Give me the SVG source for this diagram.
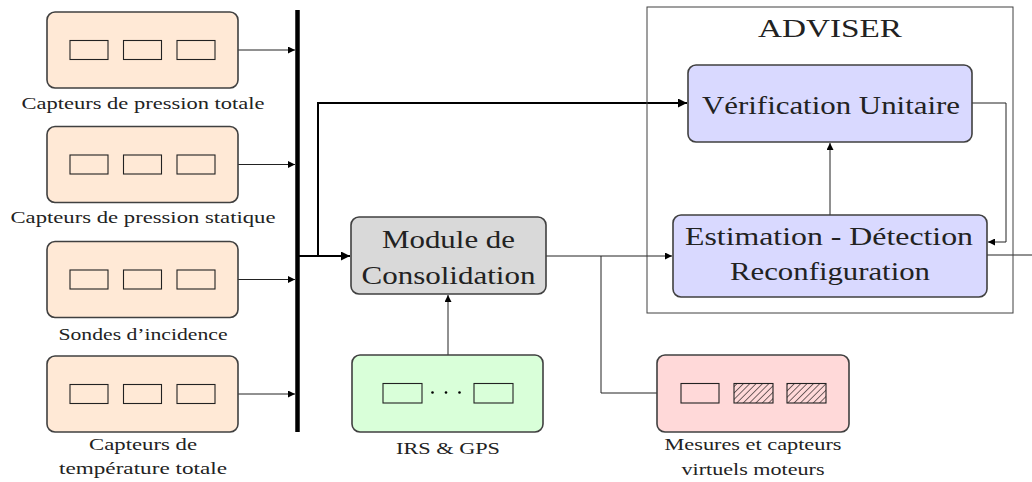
<svg xmlns="http://www.w3.org/2000/svg" width="1032" height="482" viewBox="0 0 1032 482">
<style>
.box{stroke:#404040;stroke-width:1.6}
.or{fill:#ffe9d6}
.gr{fill:#d9d9d9}
.gn{fill:#d9ffd9}
.bl{fill:#d9d9ff}
.pk{fill:#ffd9d9}
.cell{fill:none;stroke:#222;stroke-width:1.1}
.hatch{fill:url(#hat);stroke:#222;stroke-width:1.1}
.ln{fill:none;stroke:#222;stroke-width:1}
.thick{fill:none;stroke:#000;stroke-width:2}
.lbl{font-family:"Liberation Serif",serif;font-size:17.5px;fill:#222;text-anchor:middle}
.big{font-family:"Liberation Serif",serif;font-size:26px;fill:#222;text-anchor:middle}
</style>
<defs>
<marker id="ar" viewBox="0 0 10 10" refX="10" refY="5" markerWidth="9" markerHeight="7" markerUnits="userSpaceOnUse" orient="auto"><path d="M0,0 L10,5 L0,10 z" fill="#000"/></marker>
<marker id="arT" viewBox="0 0 10 10" refX="10" refY="5" markerWidth="12" markerHeight="9" markerUnits="userSpaceOnUse" orient="auto"><path d="M0,0 L10,5 L0,10 z" fill="#000"/></marker>
<pattern id="hat" patternUnits="userSpaceOnUse" width="4.5" height="4.5" patternTransform="rotate(45)"><rect width="4.5" height="4.5" fill="#ffd9d9"/><line x1="0" y1="0" x2="0" y2="4.5" stroke="#000" stroke-width="1.1"/></pattern>
</defs>

<g id="connectors">
<line class="ln" x1="238" y1="50" x2="295" y2="50" marker-end="url(#ar)"/>
<line class="ln" x1="238" y1="164.5" x2="295" y2="164.5" marker-end="url(#ar)"/>
<line class="ln" x1="238" y1="279.5" x2="295" y2="279.5" marker-end="url(#ar)"/>
<line class="ln" x1="238" y1="394" x2="295" y2="394" marker-end="url(#ar)"/>
<line x1="297.5" y1="10" x2="297.5" y2="432" stroke="#000" stroke-width="4.5"/>
<line class="thick" x1="299" y1="256" x2="350" y2="256" marker-end="url(#arT)"/>
<polyline class="thick" points="318,256 318,103 687,103" marker-end="url(#arT)"/>
<line class="ln" x1="448" y1="355" x2="448" y2="295" marker-end="url(#ar)"/>
<line class="ln" x1="546" y1="256" x2="672" y2="256" marker-end="url(#ar)"/>
<polyline class="ln" points="601,256 601,393 657,393"/>
<line class="ln" x1="830" y1="215" x2="830" y2="143" marker-end="url(#ar)"/>
<polyline class="ln" points="972,103 1006,103 1006,242 988,242" marker-end="url(#ar)"/>
<line class="ln" x1="987" y1="255" x2="1032" y2="255"/>
</g>

<g id="sensor-pt">
<rect class="box or" x="47" y="12" width="191" height="76" rx="8"/>
<rect class="cell" x="70" y="40.5" width="38" height="19"/>
<rect class="cell" x="123.5" y="40.5" width="38" height="19"/>
<rect class="cell" x="177" y="40.5" width="38" height="19"/>
<text class="lbl" x="143" y="109" textLength="243" lengthAdjust="spacingAndGlyphs">Capteurs de pression totale</text>
</g>
<g id="sensor-ps">
<rect class="box or" x="47" y="126.5" width="191" height="76" rx="8"/>
<rect class="cell" x="70" y="155" width="38" height="19"/>
<rect class="cell" x="123.5" y="155" width="38" height="19"/>
<rect class="cell" x="177" y="155" width="38" height="19"/>
<text class="lbl" x="143" y="223" textLength="265" lengthAdjust="spacingAndGlyphs">Capteurs de pression statique</text>
</g>
<g id="sensor-aoa">
<rect class="box or" x="47" y="241.5" width="191" height="76" rx="8"/>
<rect class="cell" x="70" y="270" width="38" height="19"/>
<rect class="cell" x="123.5" y="270" width="38" height="19"/>
<rect class="cell" x="177" y="270" width="38" height="19"/>
<text class="lbl" x="143" y="340" textLength="169" lengthAdjust="spacingAndGlyphs">Sondes d’incidence</text>
</g>
<g id="sensor-tat">
<rect class="box or" x="47" y="356" width="191" height="76" rx="8"/>
<rect class="cell" x="70" y="384.5" width="38" height="19"/>
<rect class="cell" x="123.5" y="384.5" width="38" height="19"/>
<rect class="cell" x="177" y="384.5" width="38" height="19"/>
<text class="lbl" x="143" y="450" textLength="108" lengthAdjust="spacingAndGlyphs">Capteurs de</text>
<text class="lbl" x="143" y="474" textLength="168" lengthAdjust="spacingAndGlyphs">température totale</text>
</g>

<g id="consolidation">
<rect class="box gr" x="351" y="217" width="195" height="77" rx="8"/>
<text class="big" x="448.5" y="248" textLength="133" lengthAdjust="spacingAndGlyphs">Module de</text>
<text class="big" x="448.5" y="284" textLength="174" lengthAdjust="spacingAndGlyphs">Consolidation</text>
</g>

<g id="irs-gps">
<rect class="box gn" x="352" y="355" width="191" height="77" rx="8"/>
<rect class="cell" x="383" y="383.5" width="39" height="19.5"/>
<rect class="cell" x="474" y="383.5" width="39" height="19.5"/>
<circle cx="432.5" cy="392.5" r="1.3" fill="#000"/>
<circle cx="446" cy="392.5" r="1.3" fill="#000"/>
<circle cx="459.5" cy="392.5" r="1.3" fill="#000"/>
<text class="lbl" x="448" y="454" textLength="104" lengthAdjust="spacingAndGlyphs">IRS &amp; GPS</text>
</g>

<g id="adviser">
<rect x="647" y="7" width="366" height="306" fill="none" stroke="#404040" stroke-width="1"/>
<text class="big" x="830" y="37" textLength="144" lengthAdjust="spacingAndGlyphs">ADVISER</text>
</g>

<g id="verification">
<rect class="box bl" x="688" y="65" width="284" height="77" rx="8"/>
<text class="big" x="831" y="114" textLength="258" lengthAdjust="spacingAndGlyphs">Vérification Unitaire</text>
</g>

<g id="estimation">
<rect class="box bl" x="673" y="215" width="314" height="82" rx="8"/>
<text class="big" x="829" y="245" textLength="288" lengthAdjust="spacingAndGlyphs">Estimation - Détection</text>
<text class="big" x="830" y="280" textLength="200" lengthAdjust="spacingAndGlyphs">Reconfiguration</text>
</g>

<g id="moteurs">
<rect class="box pk" x="657" y="355" width="192" height="77" rx="8"/>
<rect class="cell" x="681" y="383.5" width="38" height="19.5"/>
<rect class="hatch" x="734" y="383.5" width="39" height="19.5"/>
<rect class="hatch" x="787" y="383.5" width="39" height="19.5"/>
<text class="lbl" x="753" y="450" textLength="177" lengthAdjust="spacingAndGlyphs">Mesures et capteurs</text>
<text class="lbl" x="753" y="475" textLength="143" lengthAdjust="spacingAndGlyphs">virtuels moteurs</text>
</g>
</svg>
